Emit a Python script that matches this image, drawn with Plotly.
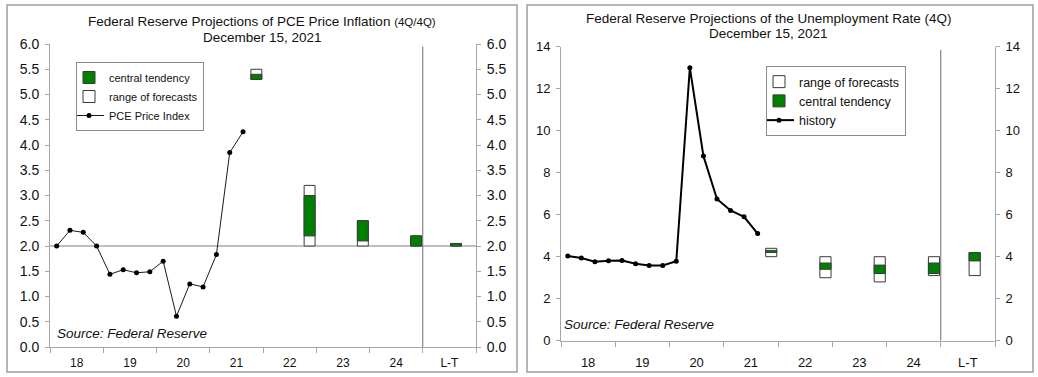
import plotly.graph_objects as go

# ---------------- data ----------------
categories = ["18", "19", "20", "21", "22", "23", "24", "L-T"]
QPY = 4  # quarters per category slot

# quarterly history, starting 2018Q1
pce_history = [2.00, 2.31, 2.27, 2.00, 1.44, 1.53, 1.47, 1.49,
               1.70, 0.61, 1.25, 1.19, 1.83, 3.85, 4.26]
unemp_history = [4.03, 3.94, 3.76, 3.81, 3.82, 3.66, 3.58, 3.58,
                 3.78, 13.0, 8.80, 6.75, 6.20, 5.90, 5.10]

# projections (Dec 15, 2021 SEP)
proj_labels = ["21", "22", "23", "24", "L-T"]
proj_slot = [4, 4, 4, 4, 3]  # quarter slot within the category where the box sits

pce_range_low = [5.3, 2.0, 2.0, 2.0, 2.0]
pce_range_high = [5.5, 3.2, 2.5, 2.2, 2.05]
pce_ct_low = [5.3, 2.2, 2.1, 2.0, 2.0]
pce_ct_high = [5.4, 3.0, 2.5, 2.2, 2.05]

ur_range_low = [4.0, 3.0, 2.8, 3.1, 3.1]
ur_range_high = [4.4, 4.0, 4.0, 4.0, 4.2]
ur_ct_low = [4.2, 3.4, 3.2, 3.2, 3.8]
ur_ct_high = [4.3, 3.7, 3.6, 3.7, 4.2]

PCE_TARGET = 2.0

# ---------------- helpers ----------------
FONT = "Liberation Sans, Arial, sans-serif"
TXT = "#111111"
AXC = "#a6a6a6"
GREEN = "#008000"
EDGE = "#3a3a3a"

hist_x_pce = [i + 0.5 for i in range(len(pce_history))]
hist_x_ur = [i + 0.5 for i in range(len(unemp_history))]
proj_x = [categories.index(c) * QPY + s - 0.5 for c, s in zip(proj_labels, proj_slot)]
label_pos = [i * QPY + QPY / 2 for i in range(len(categories))]
bounds = [i * QPY for i in range(len(categories) + 1)]
lt_boundary = categories.index("L-T") * QPY
xmax = len(categories) * QPY

W, H = 1038, 377

def px_x(p):
    return p / W

def px_y(p):
    return (H - p) / H

fig = go.Figure()

BW = 0.82

# ---------- left panel: PCE ----------
fig.add_trace(go.Bar(
    x=proj_x, y=[h - l for h, l in zip(pce_range_high, pce_range_low)], base=pce_range_low,
    width=BW, marker=dict(color="white", line=dict(color=EDGE, width=1)),
    name="range of forecasts", legend="legend", legendrank=2,
    xaxis="x", yaxis="y", hoverinfo="skip"))
fig.add_trace(go.Bar(
    x=proj_x, y=[h - l for h, l in zip(pce_ct_high, pce_ct_low)], base=pce_ct_low,
    width=BW, marker=dict(color=GREEN, line=dict(color=EDGE, width=1)),
    name="central tendency", legend="legend", legendrank=1,
    xaxis="x", yaxis="y", hoverinfo="skip"))
fig.add_trace(go.Scatter(
    x=hist_x_pce, y=pce_history, mode="lines+markers",
    line=dict(color="#1a1a1a", width=1), marker=dict(color="black", size=5),
    name="PCE Price Index", legend="legend", legendrank=3,
    xaxis="x", yaxis="y", hoverinfo="skip"))
fig.add_trace(go.Scatter(x=[None], y=[None], xaxis="x", yaxis="y3", showlegend=False, hoverinfo="skip"))

# ---------- right panel: unemployment ----------
fig.add_trace(go.Bar(
    x=proj_x, y=[h - l for h, l in zip(ur_range_high, ur_range_low)], base=ur_range_low,
    width=BW, marker=dict(color="white", line=dict(color=EDGE, width=1)),
    name="range of forecasts", legend="legend2", legendrank=1,
    xaxis="x2", yaxis="y2", hoverinfo="skip"))
fig.add_trace(go.Bar(
    x=proj_x, y=[h - l for h, l in zip(ur_ct_high, ur_ct_low)], base=ur_ct_low,
    width=BW, marker=dict(color=GREEN, line=dict(color=EDGE, width=1)),
    name="central tendency", legend="legend2", legendrank=2,
    xaxis="x2", yaxis="y2", hoverinfo="skip"))
fig.add_trace(go.Scatter(
    x=hist_x_ur, y=unemp_history, mode="lines+markers",
    line=dict(color="black", width=2), marker=dict(color="black", size=5),
    name="history", legend="legend2", legendrank=3,
    xaxis="x2", yaxis="y2", hoverinfo="skip"))
fig.add_trace(go.Scatter(x=[None], y=[None], xaxis="x2", yaxis="y4", showlegend=False, hoverinfo="skip"))

# ---------- axes ----------
def xax(domain, tickfont, standoff, anchor):
    return dict(domain=domain, range=[0, xmax], showgrid=False, zeroline=False,
                showline=True, linecolor=AXC, linewidth=1, anchor=anchor,
                tickmode="array", tickvals=label_pos, ticktext=categories, ticks="",
                ticklabelstandoff=standoff,
                tickfont=dict(family=FONT, size=tickfont, color=TXT),
                minor=dict(tickmode="array", tickvals=bounds, ticks="outside",
                           ticklen=5, tickwidth=1, tickcolor=AXC),
                fixedrange=True)

def yax(domain, rng, dtick, fmt, size, side="left", overlay=None, anchor=None):
    d = dict(range=rng, dtick=dtick, tick0=0, tickformat=fmt, showgrid=False, zeroline=False,
             showline=True, linecolor=AXC, linewidth=1, ticks="outside", ticklen=4,
             tickcolor=AXC, ticklabelstandoff=3, side=side, anchor=anchor,
             tickfont=dict(family=FONT, size=size, color=TXT), fixedrange=True)
    if overlay:
        d["overlaying"] = overlay
    else:
        d["domain"] = domain
    return d

left_xdom = [px_x(50), px_x(476)]
left_ydom = [px_y(347), px_y(44)]
right_xdom = [px_x(561), px_x(995)]
right_ydom = [px_y(340.7), px_y(46.7)]

fig.update_layout(
    xaxis=xax(left_xdom, 12, 5, "y"),
    yaxis=yax(left_ydom, [0, 6], 0.5, ".1f", 14, anchor="x"),
    yaxis3=yax(None, [0, 6], 0.5, ".1f", 14, side="right", overlay="y", anchor="x"),
    xaxis2=xax(right_xdom, 13, 10, "y2"),
    yaxis2=yax(right_ydom, [0, 14], 2, "d", 13, anchor="x2"),
    yaxis4=yax(None, [0, 14], 2, "d", 13, side="right", overlay="y2", anchor="x2"),
)

# ---------- reference lines ----------
fig.add_shape(type="line", xref="x domain", yref="y", x0=0, x1=1, y0=PCE_TARGET, y1=PCE_TARGET,
              line=dict(color="#7f7f7f", width=1), layer="below")
fig.add_shape(type="line", xref="x", yref="y", x0=lt_boundary, x1=lt_boundary, y0=0, y1=5.95,
              line=dict(color="#6e6e6e", width=1))
fig.add_shape(type="line", xref="x2", yref="y2", x0=lt_boundary, x1=lt_boundary, y0=0, y1=13.85,
              line=dict(color="#6e6e6e", width=1))

# ---------- panel borders ----------
for x0, x1 in [(7, 517), (527, 1033)]:
    fig.add_shape(type="rect", xref="paper", yref="paper",
                  x0=px_x(x0), x1=px_x(x1), y0=px_y(372), y1=px_y(5),
                  line=dict(color="#a0a0a0", width=1.5), fillcolor="rgba(0,0,0,0)", layer="below")

# ---------- titles & notes ----------
def note(text, x, y, size, xanchor="center", italic=False):
    fig.add_annotation(text=(f"<i>{text}</i>" if italic else text), xref="paper", yref="paper",
                       x=px_x(x), y=px_y(y), xanchor=xanchor, yanchor="middle",
                       showarrow=False, font=dict(family=FONT, size=size, color=TXT))

note('Federal Reserve Projections of PCE Price Inflation <span style="font-size:11.5px">(4Q/4Q)</span>',
     262, 22, 13.5)
note("December 15, 2021", 262, 37, 13.5)
note("Federal Reserve Projections of the Unemployment Rate (4Q)", 768, 18.3, 13.5)
note("December 15, 2021", 768, 33.3, 13.5)
note("Source: Federal Reserve", 55, 333, 13.5, xanchor="left", italic=True)
note("Source: Federal Reserve", 562, 324, 13.5, xanchor="left", italic=True)

fig.update_layout(
    width=W, height=H, margin=dict(l=0, r=0, t=0, b=0, autoexpand=False),
    paper_bgcolor="white", plot_bgcolor="rgba(0,0,0,0)",
    barmode="overlay", bargap=0,
    font=dict(family=FONT, color=TXT),
    legend=dict(x=px_x(76), y=px_y(62), xanchor="left", yanchor="top",
                bgcolor="white", bordercolor="#8c8c8c", borderwidth=1,
                font=dict(family=FONT, size=11, color=TXT), itemwidth=30,
                indentation=-8, tracegroupgap=0),
    legend2=dict(x=px_x(766), y=px_y(66), xanchor="left", yanchor="top",
                 bgcolor="white", bordercolor="#8c8c8c", borderwidth=1,
                 font=dict(family=FONT, size=12.5, color=TXT), itemwidth=30,
                 indentation=-8, tracegroupgap=0),
    showlegend=True,
)

fig.write_html(
    "out.html",
    config={"displayModeBar": False, "staticPlot": True},
    post_script="document.body.style.margin='0';document.body.style.padding='0';"
                "document.body.style.overflow='hidden';",
)
